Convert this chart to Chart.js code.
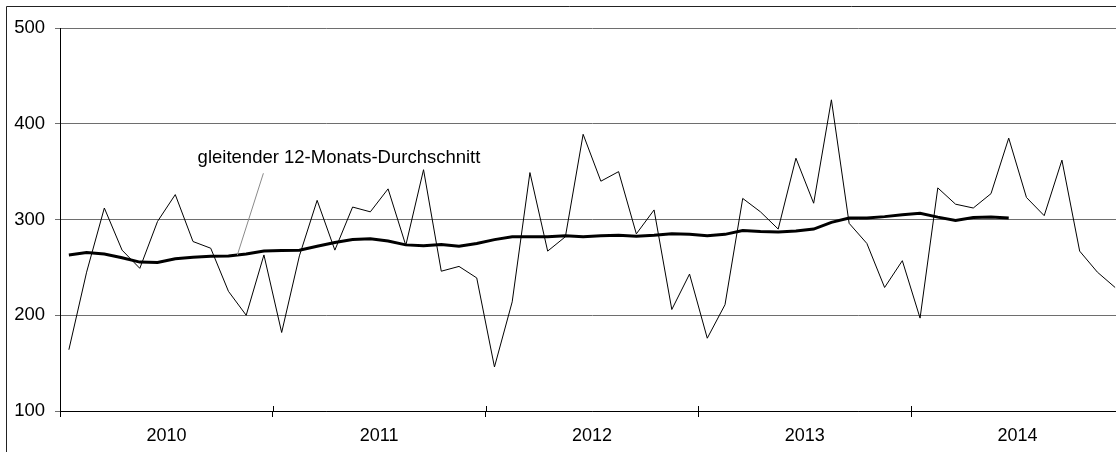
<!DOCTYPE html>
<html>
<head>
<meta charset="utf-8">
<script src="https://cdn.jsdelivr.net/npm/chart.js@4/dist/chart.umd.min.js"></script>
<style>
  html, body { margin: 0; padding: 0; overflow: hidden; background: #fff; }
  #wrap { position: absolute; left: 0; top: 0; width: 1140px; }
</style>
</head>
<body>
<div id="wrap"><canvas id="myChart" width="1132" height="452"></canvas></div>
<script>
const years = ["2010", "2011", "2012", "2013", "2014"];

// monatliche Werte Jan 2010 - Dez 2014
const monatswerte = [
  164, 245, 312, 268, 249, 298, 326, 277, 270, 225, 200, 263,
  182, 262, 320, 268, 313, 308, 332, 273, 352, 246, 251, 239,
  146, 214, 349, 267, 282, 389, 340, 350, 285, 310, 206, 243,
  176, 211, 322, 308, 290, 364, 317, 425, 296, 275, 229, 257,
  197, 333, 316, 312, 327, 385, 323, 304, 362, 267, 245, 229
];

// gleitender 12-Monats-Durchschnitt (endet Jun 2014)
const durchschnitt = [
  263, 265.5, 264, 260, 255.5, 255, 259, 260.5, 261.5, 262, 264, 267,
  267.5, 268, 272, 276, 279, 280, 277.5, 273.5, 272.5, 274, 272, 275,
  279, 282, 282, 282, 283, 282, 283, 283.5, 282.5, 283.5, 285, 284.5,
  283, 284.5, 288.5, 287.5, 287, 288, 290, 297, 301.5, 301.5, 303, 305,
  306.5, 302.5, 299, 302, 302.5, 301.5
];

const yTicks = [100, 200, 300, 400, 500];

const annoText = "gleitender 12-Monats-Durchschnitt";
const annoPos = { x: 7.76, y: 359.3 };
const leaderFrom = { x: 11.47, y: 348.3 };
const leaderTo = { x: 10.0, y: 262.9 };

function toPoints(arr) {
  return arr.map((v, i) => ({ x: i + 0.5, y: v }));
}

const fontFam = "Arial, 'Liberation Sans', sans-serif";

const extras = {
  id: "extras",
  beforeDraw(chart) {
    const c = chart.ctx;
    c.save();
    c.strokeStyle = "#222";
    c.lineWidth = 1;
    c.beginPath();
    c.moveTo(6.5, 460);
    c.lineTo(6.5, 6.5);
    c.lineTo(1200, 6.5);
    c.stroke();
    c.restore();
  },
  afterDraw(chart) {
    const c = chart.ctx;
    const xs = chart.scales.x, ys = chart.scales.y;
    c.save();
    // Jahrestriche oberhalb der Achse
    c.strokeStyle = "#000";
    c.lineWidth = 1;
    for (let m = 12; m < 60; m += 12) {
      const px = Math.round(xs.getPixelForValue(m)) + 0.5;
      c.beginPath();
      c.moveTo(px, ys.bottom - 5);
      c.lineTo(px, ys.bottom);
      c.stroke();
    }
    // Beschriftung mit Hinweislinie
    c.strokeStyle = "#8a8a8a";
    c.beginPath();
    c.moveTo(xs.getPixelForValue(leaderFrom.x), ys.getPixelForValue(leaderFrom.y));
    c.lineTo(xs.getPixelForValue(leaderTo.x), ys.getPixelForValue(leaderTo.y));
    c.stroke();
    c.fillStyle = "#000";
    c.font = "18.5px " + fontFam;
    c.textBaseline = "alphabetic";
    c.textAlign = "left";
    c.fillText(annoText, xs.getPixelForValue(annoPos.x), ys.getPixelForValue(annoPos.y));
    c.restore();
  }
};

const ctx = document.getElementById("myChart");

new Chart(ctx, {
  type: "line",
  data: {
    datasets: [
      {
        label: "gleitender 12-Monats-Durchschnitt",
        data: toPoints(durchschnitt),
        borderColor: "#000",
        borderWidth: 3,
        pointRadius: 0,
        tension: 0
      },
      {
        label: "Monatswerte",
        data: toPoints(monatswerte),
        borderColor: "#000",
        borderWidth: 1,
        pointRadius: 0,
        tension: 0
      }
    ]
  },
  options: {
    responsive: false,
    animation: false,
    layout: { padding: { left: 0, right: 1, top: 28, bottom: 0 } },
    plugins: {
      legend: { display: false },
      tooltip: { enabled: false }
    },
    scales: {
      x: {
        type: "linear",
        min: 0,
        max: 60,
        afterFit: (s) => { s.height = 41; },
        afterBuildTicks: (s) => {
          s.ticks = [];
          for (let m = 0; m <= 60; m += 6) s.ticks.push({ value: m });
        },
        border: { color: "#000", width: 1 },
        grid: {
          drawOnChartArea: false,
          drawTicks: true,
          tickLength: 6,
          color: (c) => (c.tick && c.tick.value % 12 === 0 ? "#000" : "rgba(0,0,0,0)")
        },
        ticks: {
          autoSkip: false,
          maxRotation: 0,
          padding: 8,
          color: "#000",
          font: { family: fontFam, size: 18 },
          callback: (v) => (v % 12 === 6 ? years[(v - 6) / 12] : "")
        }
      },
      y: {
        min: 100,
        max: 500,
        afterFit: (s) => { s.width = 60; },
        afterBuildTicks: (s) => { s.ticks = yTicks.map(v => ({ value: v })); },
        border: { color: "#000", width: 1 },
        grid: {
          color: "#6e6e6e",
          lineWidth: 1,
          tickLength: 5
        },
        ticks: {
          padding: 10,
          color: "#000",
          font: { family: fontFam, size: 18.5 }
        }
      }
    }
  },
  plugins: [extras]
});
</script>
</body>
</html>
